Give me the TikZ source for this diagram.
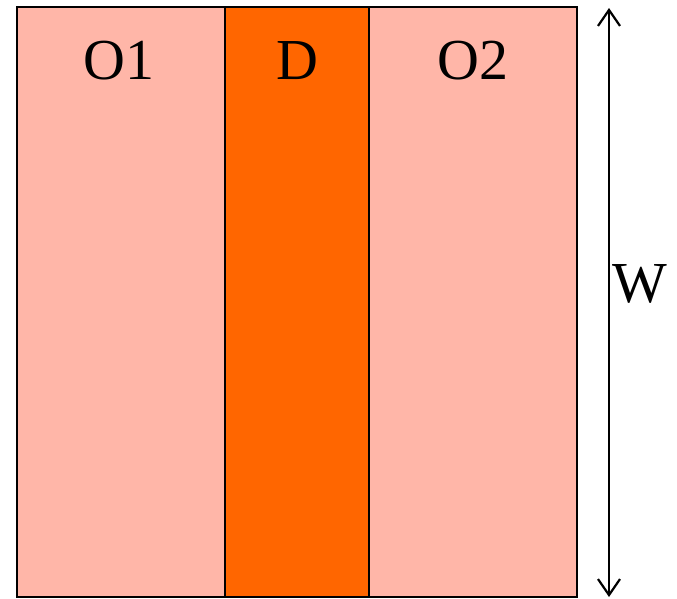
\documentclass[tikz,border=0pt]{standalone}
\usepackage{fontspec}
\setmainfont{Liberation Serif}
\usetikzlibrary{arrows.meta,positioning}
\definecolor{outer}{RGB}{255,182,168}
\definecolor{inner}{RGB}{255,102,0}
\begin{document}
\begin{tikzpicture}[x=1pt, y=-1pt,
    region/.style={draw=black, line width=2.4pt},
    lbl/.style={font=\fontsize{58}{60}\selectfont, inner sep=0pt, anchor=base}]
    \useasboundingbox (0,0) rectangle (677,599);
    \fill[outer] (17,7) rectangle (225,597);
    \fill[inner] (225,7) rectangle (369,597);
    \fill[outer] (369,7) rectangle (577,597);
    \draw[line width=1.8pt] (225,7) -- (225,597);
    \draw[line width=1.8pt] (369,7) -- (369,597);
    \draw[region] (17,7) rectangle (577,597);
    \node[lbl] (o1) at (119,80) {O1};
    \node[lbl] (d) at (297,80) {D};
    \node[lbl] (o2) at (473,80) {O2};
    % width marker
    \coordinate (wtop) at (609,8);
    \coordinate (wbot) at (609,597);
    \draw[line width=2.2pt, {Straight Barb[length=16pt,width=22pt]}-{Straight Barb[length=16pt,width=22pt]}] (wtop) -- (wbot);
    \node[lbl] (w) at (640,302) {W};
\end{tikzpicture}
\end{document}
